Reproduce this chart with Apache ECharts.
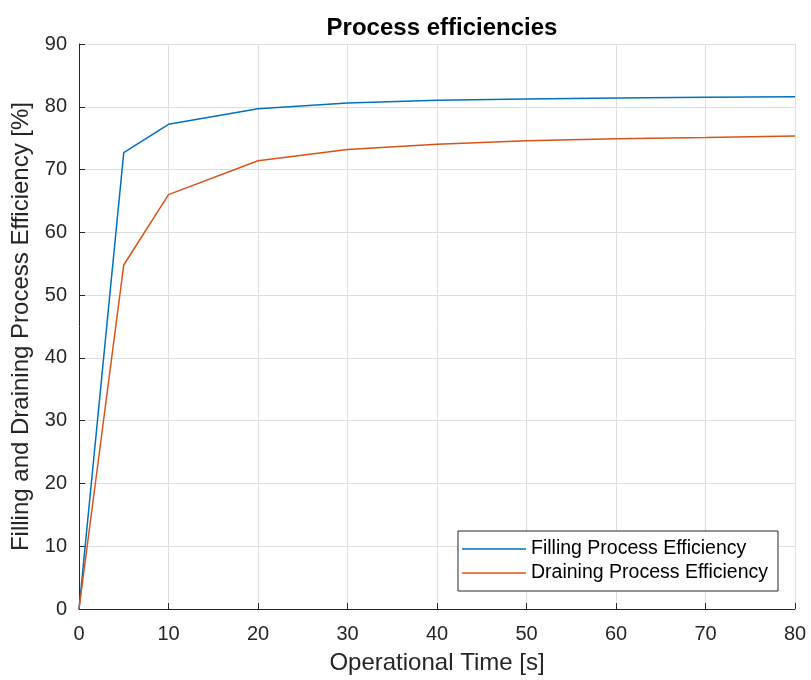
<!DOCTYPE html>
<html>
<head>
<meta charset="utf-8">
<script src="https://cdn.jsdelivr.net/npm/echarts@6/dist/echarts.min.js"></script>
<style>html,body{margin:0;padding:0;background:#fff}#c{width:811px;height:680px}</style>
</head>
<body>
<div id="c"></div>
<script>
var timeValues = [0, 5, 10, 20, 30, 40, 50, 60, 70, 80];
var fillingEff = [0, 72.7, 77.2, 79.7, 80.6, 81.05, 81.25, 81.4, 81.5, 81.6];
var drainingEff = [0, 54.8, 66.0, 71.4, 73.2, 74.05, 74.6, 74.9, 75.1, 75.35];
var xTicks = [0, 10, 20, 30, 40, 50, 60, 70, 80];
var yTicks = [0, 10, 20, 30, 40, 50, 60, 70, 80, 90];

function pairs(xs, ys) { return xs.map(function (x, i) { return [x, ys[i]]; }); }

var chart = echarts.init(document.getElementById('c'));
var font = 'Liberation Sans, Arial, Helvetica, sans-serif';
chart.setOption({
  animation: false,
  backgroundColor: '#fff',
  textStyle: { fontFamily: font },
  title: {
    text: 'Process efficiencies',
    left: 437, top: 11, textAlign: 'center',
    textStyle: { fontSize: 24, fontWeight: 'bold', color: '#000', fontFamily: font }
  },
  grid: { left: 79, right: 16, top: 44, bottom: 69, containLabel: false },
  legend: {
    orient: 'vertical', right: 33, bottom: 89,
    data: ['Filling Process Efficiency', 'Draining Process Efficiency'],
    icon: 'rect', itemWidth: 64, itemHeight: 1.5, itemGap: 4,
    padding: [8, 10, 8, 4],
    borderColor: '#262626', borderWidth: 1, backgroundColor: '#fff',
    textStyle: { fontSize: 19.5, color: '#000', fontFamily: font }
  },
  xAxis: {
    type: 'value', min: 0, max: 80, interval: 10,
    name: 'Operational Time [s]', nameLocation: 'middle', nameGap: 42,
    nameTextStyle: { fontSize: 24, color: '#262626', fontFamily: font },
    axisLine: { show: true, onZero: false, lineStyle: { color: '#262626', width: 1 } },
    axisTick: { show: true, inside: true, length: 6, lineStyle: { color: '#262626' } },
    axisLabel: { fontSize: 20, color: '#262626', margin: 15, fontFamily: font,
      formatter: function (v) { return xTicks.indexOf(v) >= 0 ? String(v) : ''; } },
    splitLine: { show: true, lineStyle: { color: '#dedede', width: 1 } }
  },
  yAxis: {
    type: 'value', min: 0, max: 90, interval: 10,
    name: 'Filling and Draining Process Efficiency [%]', nameLocation: 'middle', nameGap: 40,
    nameTextStyle: { fontSize: 24, color: '#262626', fontFamily: font },
    axisLine: { show: true, onZero: false, lineStyle: { color: '#262626', width: 1 } },
    axisTick: { show: true, inside: true, length: 6, lineStyle: { color: '#262626' } },
    axisLabel: { fontSize: 20, color: '#262626', margin: 12, fontFamily: font,
      formatter: function (v) { return yTicks.indexOf(v) >= 0 ? String(v) : ''; } },
    splitLine: { show: true, lineStyle: { color: '#dedede', width: 1 } }
  },
  series: [
    {
      name: 'Filling Process Efficiency', type: 'line', data: pairs(timeValues, fillingEff),
      showSymbol: false, symbol: 'none', color: '#0072BD',
      lineStyle: { color: '#0072BD', width: 1.5 }
    },
    {
      name: 'Draining Process Efficiency', type: 'line', data: pairs(timeValues, drainingEff),
      showSymbol: false, symbol: 'none', color: '#D95319',
      lineStyle: { color: '#D95319', width: 1.5 }
    }
  ]
});
</script>
</body>
</html>
